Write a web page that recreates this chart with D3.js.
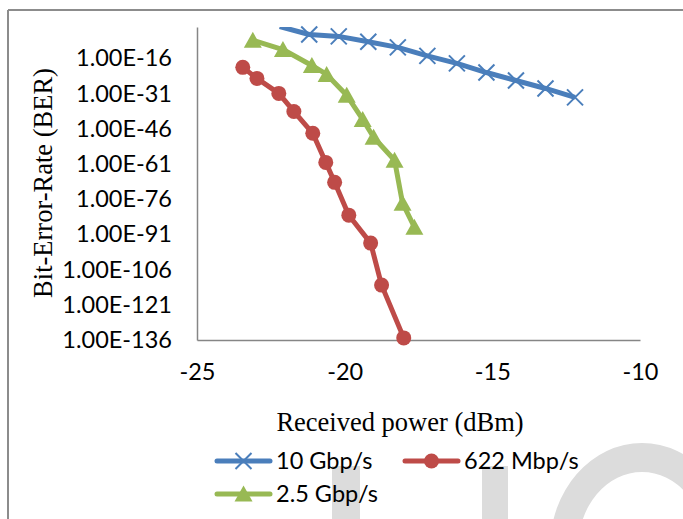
<!DOCTYPE html>
<html>
<head>
<meta charset="utf-8">
<title>BER vs received power</title>
<style>
  body { margin: 0; background: #fff; }
  svg { display: block; }
  .tick-label { font-family: Lato, "Open Sans", sans-serif; font-size: 23.5px; fill: #000; }
  .axis-title { font-family: "Liberation Serif", "Times New Roman", serif; font-size: 26.5px; fill: #000; }
</style>
<script src="https://cdn.jsdelivr.net/npm/d3@7"></script>
</head>
<body>
<script>
// series values (x in dBm, y = BER exponent, i.e. 1E<y>)
var seriesNames = ["10 Gbp/s", "622 Mbp/s", "2.5 Gbp/s"];
var seriesColors = ["#4a7ebb", "#be4b48", "#98b954"];
var blueX = [-22.2, -21.2, -20.2, -19.2, -18.2, -17.2, -16.2, -15.2, -14.2, -13.2, -12.2];
var blueY = [-2.4, -5.8, -6.6, -8.9, -11.3, -14.9, -18.1, -22.0, -25.4, -28.8, -32.6];
var redX = [-23.45, -22.97, -22.23, -21.72, -21.08, -20.64, -20.34, -19.86, -19.12, -18.75, -18.0];
var redY = [-19.8, -24.5, -30.9, -38.6, -47.9, -60.3, -68.8, -82.8, -94.7, -112.6, -135.1];
var greenX = [-23.11, -22.09, -21.11, -20.61, -19.93, -19.39, -19.02, -18.31, -18.04, -17.64];
var greenY = [-8.3, -12.2, -19.0, -22.8, -31.7, -42.0, -49.6, -59.4, -77.7, -87.9];
var xTicks = [-25, -20, -15, -10];
var yTicks = [-16, -31, -46, -61, -76, -91, -106, -121, -136];

var W = 683, H = 519;
var svg = d3.select("body").append("svg")
  .attr("width", W)
  .attr("height", H);

// faint watermark letters from the scanned page
var wm = svg.append("g").attr("fill", "#dcdcdc");
wm.append("rect").attr("x", 332).attr("y", 466).attr("width", 28).attr("height", 60);
wm.append("rect").attr("x", 482).attr("y", 466).attr("width", 26).attr("height", 60);
wm.append("path")
  .attr("fill-rule", "evenodd")
  .attr("d", function() {
    var cx = 642, cy = 548;
    function ell(rx, ry) {
      return "M" + (cx - rx) + "," + cy + "a" + rx + "," + ry + " 0 1,0 " + (2 * rx) + ",0" +
        "a" + rx + "," + ry + " 0 1,0 " + (-2 * rx) + ",0Z";
    }
    return ell(92, 105) + ell(64, 76);
  });

// outer frame
svg.append("line").attr("x1", 8).attr("y1", 10).attr("x2", W).attr("y2", 10)
  .attr("stroke", "#8c8c8c").attr("stroke-width", 2);
svg.append("line").attr("x1", 8).attr("y1", 10).attr("x2", 8).attr("y2", H)
  .attr("stroke", "#8c8c8c").attr("stroke-width", 2);

var plot = {left: 197, right: 640, top: 27, bottom: 340};
var x = d3.scaleLinear().domain([-25, -10]).range([plot.left, plot.right]);
var y = d3.scaleLinear().domain([-136, -2.6]).range([plot.bottom, plot.top]);

// axes
var yAxis = svg.append("g")
  .attr("transform", "translate(" + plot.left + ",0)")
  .call(d3.axisLeft(y).tickValues(yTicks).tickSize(0).tickPadding(25)
    .tickFormat(function(d) { return "1.00E" + d; }));
yAxis.select(".domain").attr("stroke", "#868686").attr("stroke-width", 1.5);
yAxis.selectAll("text").attr("class", "tick-label").attr("font-family", null).attr("font-size", null);

var xAxis = svg.append("g")
  .attr("transform", "translate(0," + plot.bottom + ")")
  .call(d3.axisBottom(x).tickValues(xTicks).tickSize(0).tickPadding(23)
    .tickFormat(function(d) { return String(d); }));
xAxis.select(".domain").attr("stroke", "#868686").attr("stroke-width", 1.5);
xAxis.selectAll("text").attr("class", "tick-label").attr("font-family", null).attr("font-size", null);

// axis titles
svg.append("text").attr("class", "axis-title")
  .attr("x", 400).attr("y", 431)
  .attr("text-anchor", "middle")
  .text("Received power (dBm)");
svg.append("text").attr("class", "axis-title")
  .attr("transform", "translate(52,183) rotate(-90)")
  .attr("text-anchor", "middle")
  .text("Bit-Error-Rate (BER)");

// series
var series = [
  {name: seriesNames[0], color: seriesColors[0], marker: "x", pts: d3.zip(blueX, blueY)},
  {name: seriesNames[1], color: seriesColors[1], marker: "circle", pts: d3.zip(redX, redY)},
  {name: seriesNames[2], color: seriesColors[2], marker: "triangle", pts: d3.zip(greenX, greenY)}
];

svg.append("clipPath").attr("id", "plotclip")
  .append("rect")
  .attr("x", plot.left).attr("y", plot.top)
  .attr("width", plot.right - plot.left).attr("height", plot.bottom - plot.top + 10);

var line = d3.line()
  .x(function(d) { return x(d[0]); })
  .y(function(d) { return y(d[1]); });

function drawMarker(g, type, color) {
  if (type === "x") {
    g.append("path").attr("d", "M-8,-8L8,8M-8,8L8,-8")
      .attr("stroke", color).attr("stroke-width", 2).attr("fill", "none");
  } else if (type === "circle") {
    g.append("circle").attr("r", 7.5).attr("fill", color);
  } else {
    g.append("path").attr("d", "M0,-8.5L9,7.5L-9,7.5Z").attr("fill", color);
  }
}

series.forEach(function(s) {
  svg.append("path")
    .attr("clip-path", "url(#plotclip)")
    .attr("d", line(s.pts))
    .attr("fill", "none")
    .attr("stroke", s.color)
    .attr("stroke-width", 5)
    .attr("stroke-linejoin", "round");
  svg.append("g").selectAll("g")
    .data(s.pts.filter(function(d) { return d[1] <= y.domain()[1]; }))
    .join("g")
    .attr("transform", function(d) { return "translate(" + x(d[0]) + "," + y(d[1]) + ")"; })
    .each(function() { drawMarker(d3.select(this), s.marker, s.color); });
});

// legend
var legendPos = [[217, 461], [405, 461], [217, 494]];
series.forEach(function(s, i) {
  var g = svg.append("g").attr("transform", "translate(" + legendPos[i][0] + "," + legendPos[i][1] + ")");
  g.append("line").attr("x1", 0).attr("x2", 53)
    .attr("stroke", s.color).attr("stroke-width", 5).attr("stroke-linecap", "round");
  drawMarker(g.append("g").attr("transform", "translate(26.5,0)"), s.marker, s.color);
  g.append("text").attr("class", "tick-label")
    .attr("x", 59).attr("dy", "0.35em")
    .text(s.name);
});
</script>
</body>
</html>
